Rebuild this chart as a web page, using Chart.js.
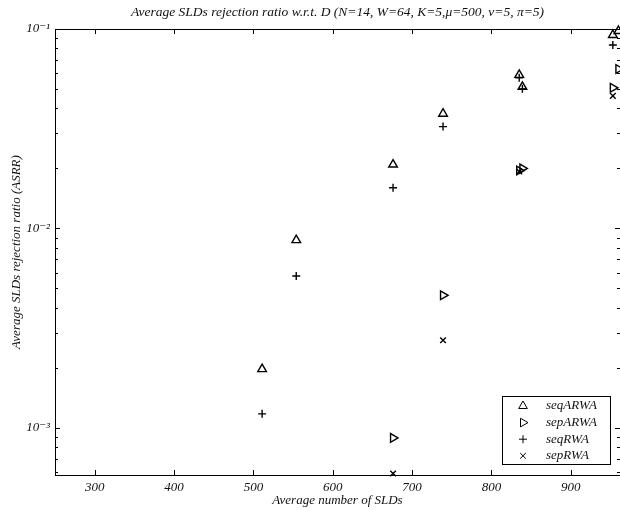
<!DOCTYPE html>
<html>
<head>
<meta charset="utf-8">
<script src="https://cdn.jsdelivr.net/npm/chart.js@4.4.0/dist/chart.umd.min.js"></script>
<style>
  html, body { margin: 0; padding: 0; overflow: hidden; background: #fff; }
</style>
</head>
<body>
<canvas id="asrr" width="620" height="510"></canvas>
<script>
// average number of SLDs for each run
const slds = [511, 554, 676, 739, 835, 839, 953, 960];

// rejection ratio per algorithm (null = nothing rejected)
const seqARWA = [1.97e-3, 8.74e-3, 2.09e-2, 3.76e-2, 5.89e-2, 5.13e-2, 9.33e-2, 9.77e-2];
const sepARWA = [null, null, 8.9e-4, 4.62e-3, 1.95e-2, 2.0e-2, 5.07e-2, 6.3e-2];
const seqRWA = [1.175e-3, 5.77e-3, 1.6e-2, 3.24e-2, 5.69e-2, 5.01e-2, 8.32e-2, null];
const sepRWA = [null, null, 5.9e-4, 2.75e-3, 1.93e-2, null, 4.62e-2, null];

const xTicks = [300, 400, 500, 600, 700, 800, 900];
const yDecades = [1e-3, 1e-2, 1e-1];
const yLabels = ["10⁻³", "10⁻²", "10⁻¹"];

const serif = "'Liberation Serif', 'DejaVu Serif', serif";
const title = "Average SLDs rejection ratio w.r.t. D (N=14, W=64, K=5,μ=500, ν=5, π=5)";

function points(values) {
  let pts = [];
  for (let i = 0; i < slds.length; i++) {
    if (values[i] != null) pts.push({ x: slds[i], y: values[i] });
  }
  return pts;
}

function series(label, values, style, radius, rotation) {
  return {
    label: label,
    data: points(values),
    pointStyle: style,
    pointRadius: radius,
    pointRotation: rotation,
    pointBorderWidth: 1.4,
    pointBorderColor: "#000",
    pointBackgroundColor: "rgba(0,0,0,0)",
    borderColor: "#000",
    backgroundColor: "rgba(0,0,0,0)",
    showLine: false,
    clip: false,
  };
}

function isDecade(v) {
  const l = Math.log10(v);
  return Math.abs(l - Math.round(l)) < 1e-9;
}

// frame with inward ticks on all four sides, plus the title
const axisBox = {
  id: "axisBox",
  beforeDatasetsDraw(chart) {
    const { ctx, chartArea: a, scales } = chart;
    const x = scales.x, y = scales.y;
    ctx.save();
    ctx.strokeStyle = "#000";
    ctx.lineWidth = 1;
    ctx.strokeRect(a.left + 0.5, a.top + 0.5, a.right - a.left, a.bottom - a.top);
    ctx.beginPath();
    x.ticks.forEach((t) => {
      const px = Math.round(x.getPixelForValue(t.value)) + 0.5;
      ctx.moveTo(px, a.bottom);
      ctx.lineTo(px, a.bottom - 5);
      ctx.moveTo(px, a.top);
      ctx.lineTo(px, a.top + 5);
    });
    y.ticks.forEach((t) => {
      const len = isDecade(t.value) ? 5 : 3;
      const py = Math.round(y.getPixelForValue(t.value)) + 0.5;
      ctx.moveTo(a.left, py);
      ctx.lineTo(a.left + len, py);
      ctx.moveTo(a.right, py);
      ctx.lineTo(a.right - len, py);
    });
    ctx.stroke();

    ctx.fillStyle = "#111";
    ctx.font = "italic 13.5px " + serif;
    ctx.textAlign = "center";
    ctx.textBaseline = "middle";
    ctx.fillText(title, (a.left + a.right) / 2, 12);
    ctx.restore();
  },
};

// boxed legend in the lower right corner
const boxLegend = {
  id: "boxLegend",
  afterDatasetsDraw(chart) {
    const { ctx, chartArea: a } = chart;
    const right = a.right - 10, bottom = a.bottom - 11;
    const w = 108, h = 68;
    ctx.save();
    ctx.fillStyle = "#fff";
    ctx.fillRect(right - w, bottom - h, w, h);
    ctx.strokeStyle = "#000";
    ctx.lineWidth = 1;
    ctx.strokeRect(right - w + 0.5, bottom - h + 0.5, w, h);
    chart.data.datasets.forEach((ds, i) => {
      const yy = bottom - h + 10 + i * 16.6;
      ctx.strokeStyle = "#000";
      ctx.fillStyle = "rgba(0,0,0,0)";
      Chart.helpers.drawPoint(ctx, {
        pointStyle: ds.pointStyle,
        radius: ds.pointRadius,
        rotation: ds.pointRotation,
        borderWidth: ds.pointBorderWidth,
      }, right - w + 21, yy);
      ctx.fillStyle = "#111";
      ctx.font = "italic 13px " + serif;
      ctx.textAlign = "left";
      ctx.textBaseline = "middle";
      ctx.fillText(ds.label, right - w + 44, yy);
    });
    ctx.restore();
  },
};

const tickFont = { family: serif, style: "italic", size: 13 };

new Chart(document.getElementById("asrr"), {
  type: "scatter",
  data: {
    datasets: [
      series("seqARWA", seqARWA, "triangle", 5, 0),
      series("sepARWA", sepARWA, "triangle", 5, 90),
      series("seqRWA", seqRWA, "cross", 4, 0),
      series("sepRWA", sepRWA, "crossRot", 4, 0),
    ],
  },
  options: {
    responsive: false,
    animation: false,
    events: [],
    layout: { autoPadding: false, padding: { top: 29, right: 0, left: 0, bottom: 0 } },
    plugins: {
      legend: { display: false },
      tooltip: { enabled: false },
    },
    scales: {
      x: {
        type: "linear",
        min: 250,
        max: 962,
        afterBuildTicks: (s) => {
          s.ticks = xTicks.map((v) => ({ value: v }));
        },
        afterFit: (s) => {
          s.height = 35;
        },
        grid: { display: false, drawTicks: false },
        border: { display: false },
        ticks: { font: tickFont, color: "#111", padding: 5, maxRotation: 0, autoSkip: false },
        title: {
          display: true,
          text: "Average number of SLDs",
          font: tickFont,
          color: "#111",
          padding: { top: 0, bottom: 2 },
        },
      },
      y: {
        type: "logarithmic",
        min: 5.8e-4,
        max: 0.1,
        afterBuildTicks: (s) => {
          let ticks = [];
          yDecades.forEach((d) => {
            for (let m = 1; m <= 9; m++) {
              const v = (m * d) / 10;
              if (v >= s.min * 0.999 && v <= s.max * 1.001) ticks.push({ value: v });
            }
          });
          ticks.push({ value: yDecades[yDecades.length - 1] });
          s.ticks = ticks;
        },
        afterFit: (s) => {
          s.width = 55;
        },
        grid: { display: false, drawTicks: false },
        border: { display: false },
        ticks: {
          font: tickFont,
          color: "#111",
          padding: 5,
          autoSkip: false,
          callback: (v) => {
            const i = yDecades.findIndex((d) => Math.abs(Math.log10(d) - Math.log10(v)) < 1e-9);
            return i >= 0 ? yLabels[i] : "";
          },
        },
        title: {
          display: true,
          text: "Average SLDs rejection ratio (ASRR)",
          font: tickFont,
          color: "#111",
          padding: { top: 9, bottom: 0 },
        },
      },
    },
  },
  plugins: [axisBox, boxLegend],
});
</script>
</body>
</html>
